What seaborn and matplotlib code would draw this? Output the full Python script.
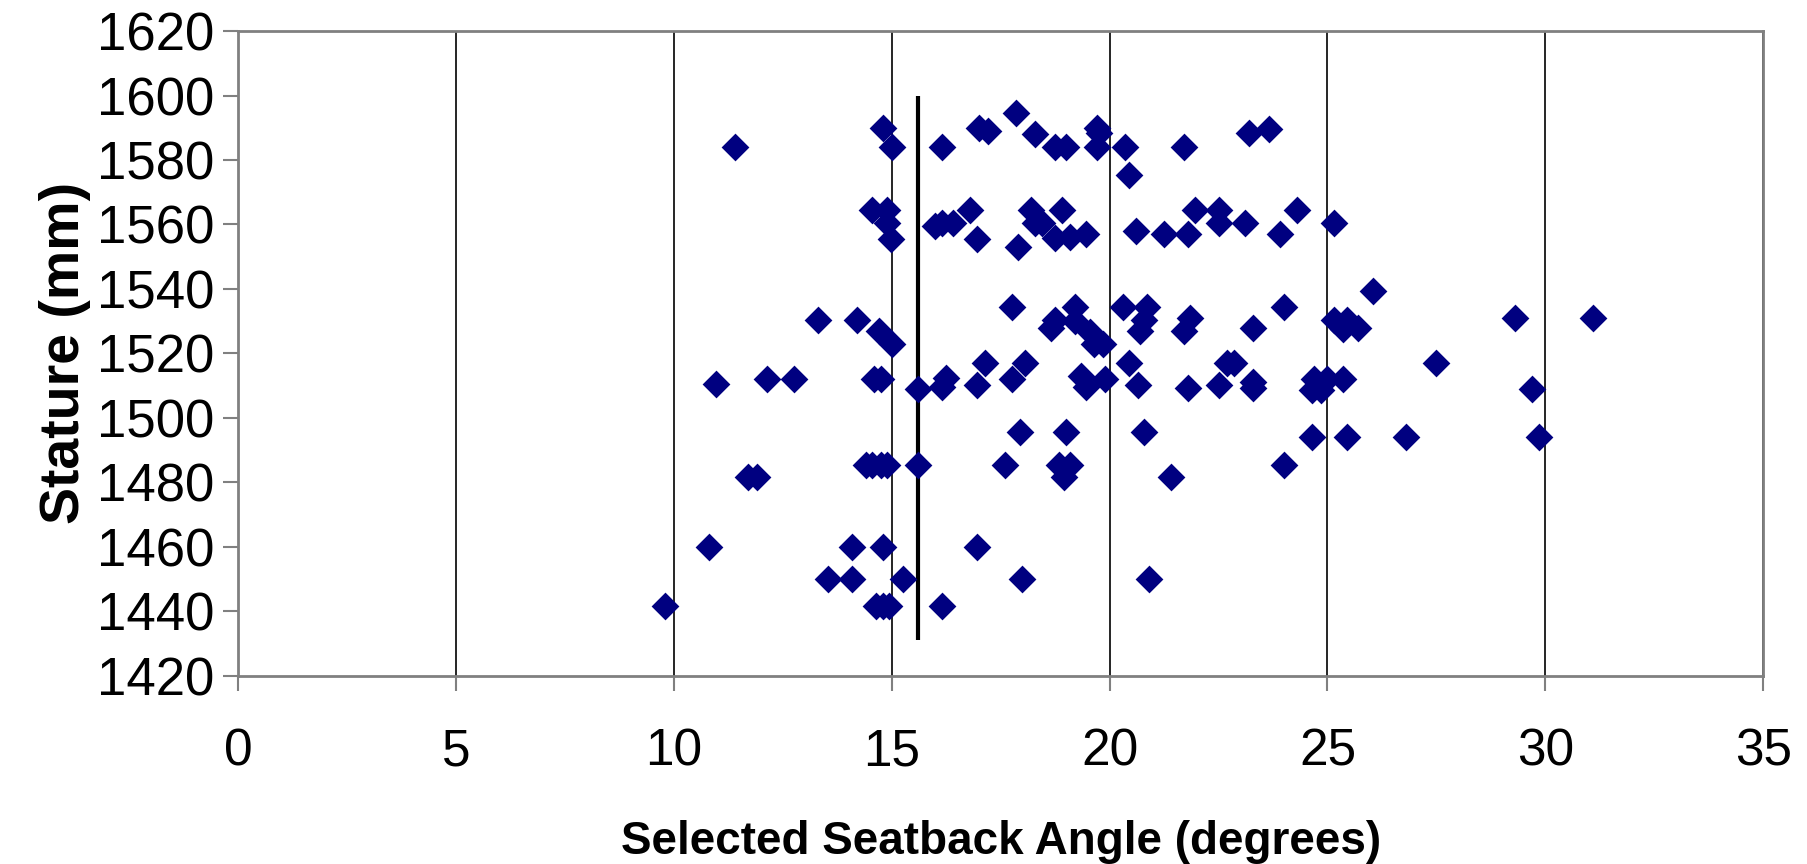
import matplotlib
matplotlib.use("Agg")
import matplotlib.pyplot as plt
import seaborn as sns
import pandas as pd

# Selected seatback angle (degrees) and stature (mm), one entry per trial
angle = [
    17.85,
    14.8, 17.0, 17.2, 18.3, 19.7, 19.75, 23.2, 23.65,
    11.4, 15.0, 16.15, 18.75, 19.0, 19.7, 20.35, 21.7,
    20.45,
    14.55, 14.9, 16.8, 18.2, 18.9, 21.95, 22.5, 24.3,
    14.9, 16.0, 16.15, 16.4, 18.3, 18.45, 22.5, 23.1, 25.15,
    14.98, 16.95, 18.75, 19.1, 19.45, 20.6, 21.25, 21.8, 23.9,
    17.9,
    26.05,
    17.75, 19.2, 20.3, 20.85, 24.0,
    13.3, 14.2, 18.75, 19.2, 20.8, 21.85, 25.15, 25.45, 29.3, 31.1,
    14.7, 18.65, 19.55, 20.7, 21.7, 23.3, 25.35, 25.7,
    15.0, 19.65, 19.85,
    17.15, 18.05, 20.45, 22.7, 22.85, 27.5,
    12.15, 12.75, 14.6, 14.75, 16.25, 17.75, 19.35, 19.9, 24.7, 25.0, 25.35,
    10.98, 15.6, 16.15, 16.95, 19.45, 20.65, 21.8, 22.5, 23.3, 23.3, 24.65, 24.85, 29.7,
    17.95, 19.0, 20.8,
    24.65, 25.45, 26.8, 29.85,
    14.4, 14.55, 14.75, 14.9, 15.6, 17.6, 18.85, 19.1, 24.0,
    11.7, 11.9, 18.95, 21.4,
    10.8, 14.1, 14.8, 16.95,
    13.55, 14.1, 15.25, 18.0, 20.9,
    9.8, 14.65, 14.8, 14.95, 16.15,
]
stature = [
    1594.5,
    1590, 1590, 1589, 1588, 1590, 1588.5, 1588.5, 1589.5,
    1584, 1584, 1584, 1584, 1584, 1584, 1584, 1584,
    1575.5,
    1564.5, 1564.5, 1564.5, 1564.5, 1564.5, 1564.5, 1564.5, 1564.5,
    1560.5, 1559.5, 1560.5, 1560.5, 1560.5, 1560.5, 1560.5, 1560.5, 1560.5,
    1555.5, 1555.5, 1555.7, 1556.2, 1557, 1558, 1557, 1557, 1557,
    1553,
    1539.5,
    1534.5, 1534.5, 1534.5, 1534.5, 1534.5,
    1530.5, 1530.5, 1530.5, 1530, 1530.5, 1531, 1530.5, 1530.5, 1531, 1531,
    1527, 1528, 1526.5, 1527, 1527, 1528, 1527.5, 1528,
    1523, 1523, 1523,
    1517, 1517, 1517, 1517, 1517, 1517,
    1512, 1512, 1512, 1512, 1512.5, 1512, 1513, 1512, 1512, 1512, 1512,
    1510.5, 1509, 1509.7, 1510.3, 1509.7, 1510.3, 1509.2, 1510.3, 1509.2, 1511, 1508.5, 1508.5, 1509,
    1495.5, 1495.5, 1495.5,
    1494, 1494, 1494, 1494,
    1485.5, 1485.5, 1485.5, 1485.5, 1485.5, 1485.5, 1485.5, 1485.5, 1485.5,
    1481.5, 1481.5, 1481.5, 1481.5,
    1460, 1460, 1460, 1460,
    1450, 1450, 1450, 1450, 1450,
    1441.5, 1441.5, 1441.5, 1441.5, 1441.5,
]

# Reference (vertical) line
ref_angle = [15.6, 15.6]
ref_stature = [1431, 1600]

x_ticks = [0, 5, 10, 15, 20, 25, 30, 35]
y_ticks = [1420, 1440, 1460, 1480, 1500, 1520, 1540, 1560, 1580, 1600, 1620]

df = pd.DataFrame({"angle": angle, "stature": stature})

sns.set_theme(style="white")
plt.rcParams["font.family"] = ["Liberation Sans", "DejaVu Sans"]

fig = plt.figure(figsize=(18.07, 8.64), dpi=100)
ax = fig.add_axes([0.1317, 0.218, 0.9758 - 0.1317, 0.964 - 0.218])

ax.plot(ref_angle, ref_stature, color="black", lw=3, zorder=2, solid_capstyle="butt")
sns.scatterplot(data=df, x="angle", y="stature", marker="D", color="#000080",
                s=200, linewidth=0, ax=ax, zorder=3)

ax.set_xlim(0, 35)
ax.set_ylim(1420, 1620)
ax.set_xticks(x_ticks)
ax.set_yticks(y_ticks)
ax.set_xticklabels([str(v) for v in x_ticks])
ax.set_yticklabels([str(v) for v in y_ticks])

ax.xaxis.grid(True, color="black", lw=1.2)
ax.yaxis.grid(False)
ax.set_axisbelow(True)

for sp in ax.spines.values():
    sp.set_color("#808080")
    sp.set_linewidth(2)

ax.tick_params(axis="y", which="major", direction="out", length=11, width=1.5,
               color="#808080", labelcolor="black", labelsize=38, pad=6, left=True)
ax.tick_params(axis="x", which="major", direction="out", length=11, width=1.5,
               color="#808080", labelcolor="black", labelsize=37, pad=26, bottom=True)

ax.set_xlabel("Selected Seatback Angle (degrees)", fontsize=33,
              fontweight="bold", color="black", labelpad=32)
ax.set_ylabel("Stature (mm)", fontsize=40, fontweight="bold",
              color="black", labelpad=4)

fig.savefig("out.png", dpi=100)
